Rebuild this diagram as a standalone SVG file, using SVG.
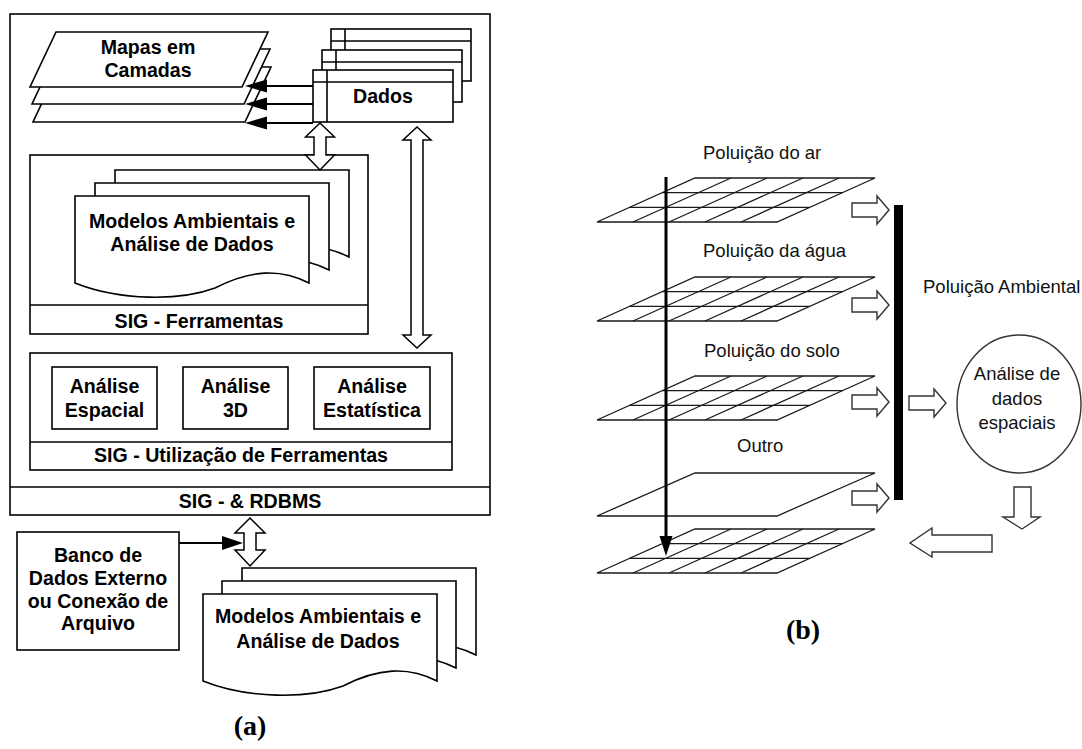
<svg xmlns="http://www.w3.org/2000/svg" width="1082" height="749" viewBox="0 0 1082 749">
<style>
  .ln{fill:#fff;stroke:#000;stroke-width:1.6}
  .nf{fill:none;stroke:#000;stroke-width:1.6}
  .b{font-family:"Liberation Sans",Arial,sans-serif;font-weight:bold;font-size:19.6px;text-anchor:middle;fill:#000}
  .r{font-family:"Liberation Sans",Arial,sans-serif;font-size:18.5px;fill:#111}
  .g{fill:none;stroke:#1a1a1a;stroke-width:1.3}
  .gw{fill:#fff;stroke:#1a1a1a;stroke-width:1.3}
  .ha{fill:#fff;stroke:#000;stroke-width:1.5}
  .hb{fill:#fff;stroke:#333;stroke-width:1.4}
  .cap{font-family:"Liberation Serif","Times New Roman",serif;font-weight:bold;font-size:28px;text-anchor:middle;fill:#000}
</style>
<defs>
  <!-- document sheet with wavy lower edge -->
  <path id="doc" d="M0,0 H234 V87 C205,72 175,74 140,92 C105,105 45,105 0,87 Z"/>
  <!-- map layer sheet -->
  <path id="layer" d="M56,32 H268 L242,87 H30 Z"/>
  <!-- data table icon -->
  <g id="table">
    <rect x="0" y="0" width="140" height="52"/>
    <line x1="0" y1="12" x2="140" y2="12"/>
    <line x1="14" y1="0" x2="14" y2="52"/>
  </g>
  <!-- 5x3 raster layer in perspective -->
  <g id="grid">
    <path d="M98,0 H278 L180,44 H0 Z"/>
    <line x1="65.3" y1="14.7" x2="245.3" y2="14.7"/>
    <line x1="32.7" y1="29.3" x2="212.7" y2="29.3"/>
    <line x1="134" y1="0" x2="36" y2="44"/>
    <line x1="170" y1="0" x2="72" y2="44"/>
    <line x1="206" y1="0" x2="108" y2="44"/>
    <line x1="242" y1="0" x2="144" y2="44"/>
  </g>
  <!-- right-pointing hollow arrow -->
  <path id="rarrow" d="M0,-7 H25 V-14 L37,0 L25,14 V7 H0 Z"/>
</defs>

<!-- ===== (a) GIS architecture ===== -->
<g id="sig-rdbms">
  <rect class="ln" x="10" y="14" width="480" height="501"/>
  <line class="nf" x1="10" y1="487" x2="490" y2="487"/>
  <text class="b" x="250" y="508">SIG - &amp; RDBMS</text>
</g>

<g id="mapas-camadas">
  <use href="#layer" class="ln" transform="translate(3,35)"/>
  <use href="#layer" class="ln" transform="translate(2,17)"/>
  <use href="#layer" class="ln"/>
  <text class="b" x="148" y="54">Mapas em</text>
  <text class="b" x="148" y="77">Camadas</text>
</g>

<g id="dados" class="ln">
  <use href="#table" x="331" y="29"/>
  <use href="#table" x="322" y="50"/>
  <use href="#table" x="313" y="70"/>
  <text class="b" x="383" y="103" stroke="none">Dados</text>
</g>

<g id="sig-ferramentas">
  <rect class="ln" x="30" y="155" width="338" height="179"/>
  <line class="nf" x1="30" y1="305" x2="368" y2="305"/>
  <text class="b" x="199" y="328">SIG - Ferramentas</text>
</g>

<g id="modelos-1">
  <use href="#doc" class="ln" x="115" y="170"/>
  <use href="#doc" class="ln" x="95" y="183"/>
  <use href="#doc" class="ln" x="75" y="196"/>
  <text class="b" x="192" y="228">Modelos Ambientais e</text>
  <text class="b" x="192" y="251">Análise de Dados</text>
</g>

<g id="sig-utilizacao">
  <rect class="ln" x="30" y="353" width="422" height="117"/>
  <line class="nf" x1="30" y1="442" x2="452" y2="442"/>
  <text class="b" x="241" y="462">SIG - Utilização de Ferramentas</text>
</g>

<g id="analise-espacial">
  <rect class="ln" x="52" y="367" width="105" height="62"/>
  <text class="b" x="104.5" y="393">Análise</text>
  <text class="b" x="104.5" y="417">Espacial</text>
</g>

<g id="analise-3d">
  <rect class="ln" x="183" y="367" width="105" height="62"/>
  <text class="b" x="235.5" y="393">Análise</text>
  <text class="b" x="235.5" y="417">3D</text>
</g>

<g id="analise-estatistica">
  <rect class="ln" x="314" y="367" width="116" height="62"/>
  <text class="b" x="372" y="393">Análise</text>
  <text class="b" x="372" y="417">Estatística</text>
</g>

<g id="banco-dados">
  <rect class="ln" x="17" y="532" width="162" height="118"/>
  <text class="b" x="98" y="562">Banco de</text>
  <text class="b" x="98" y="585">Dados Externo</text>
  <text class="b" x="98" y="608">ou Conexão de</text>
  <text class="b" x="98" y="630">Arquivo</text>
</g>

<g id="modelos-2">
  <use href="#doc" class="ln" x="242" y="568"/>
  <use href="#doc" class="ln" x="222" y="581"/>
  <use href="#doc" class="ln" x="203" y="594"/>
  <text class="b" x="318" y="623">Modelos Ambientais e</text>
  <text class="b" x="318" y="648">Análise de Dados</text>
</g>

<g id="connectors-a">
  <!-- dados to map layers -->
  <g stroke="#000" stroke-width="2.2">
    <line x1="313" y1="86" x2="262" y2="86"/>
    <line x1="313" y1="104" x2="262" y2="104"/>
    <line x1="313" y1="123" x2="262" y2="123"/>
  </g>
  <polygon points="245,86 267,79.5 267,92.5"/>
  <polygon points="245,104 267,97.5 267,110.5"/>
  <polygon points="245,123 267,116.5 267,129.5"/>
  <!-- hollow two-way arrows -->
  <path class="ha" d="M320,123 L334.5,137 L326,137 L326,155 L334.5,155 L320,170 L305.5,155 L314,155 L314,137 L305.5,137 Z"/>
  <path class="ha" d="M417,127 L431,140 L423,140 L423,335 L431,335 L417,348 L403,335 L411,335 L411,140 L403,140 Z"/>
  <path class="ha" d="M250,518 L265,533 L256,533 L256,550 L265,550 L250,566 L235,550 L244,550 L244,533 L235,533 Z"/>
  <!-- external database link -->
  <line x1="179" y1="543" x2="226" y2="543" stroke="#000" stroke-width="2.2"/>
  <polygon points="243,543 222,536 222,550"/>
</g>

<text class="cap" x="250" y="735">(a)</text>

<!-- ===== (b) environmental pollution layers ===== -->
<g id="camada-ar">
  <use href="#grid" class="gw" transform="translate(597,178)"/>
  <text class="r" x="703" y="159">Poluição do ar</text>
</g>
<g id="camada-agua">
  <use href="#grid" class="gw" transform="translate(597,277)"/>
  <text class="r" x="703" y="257">Poluição da água</text>
</g>
<g id="camada-solo">
  <use href="#grid" class="gw" transform="translate(597,376)"/>
  <text class="r" x="704" y="357">Poluição do solo</text>
</g>
<g id="camada-outro">
  <path class="gw" d="M695,473 H875 L777,516 H597 Z"/>
  <text class="r" x="737" y="452" font-size="15.5">Outro</text>
</g>
<g id="camada-resultado">
  <use href="#grid" class="gw" transform="translate(597,529)"/>
</g>

<g id="poluicao-ambiental">
  <rect x="894" y="205" width="9" height="295" fill="#000"/>
  <text class="r" x="923" y="293">Poluição Ambiental</text>
</g>

<g id="analise-dados-espaciais">
  <ellipse cx="1019" cy="404" rx="62" ry="69" fill="#fff" stroke="#333" stroke-width="1.4"/>
  <text class="r" x="1017" y="380" text-anchor="middle">Análise de</text>
  <text class="r" x="1017" y="405" text-anchor="middle">dados</text>
  <text class="r" x="1017" y="429" text-anchor="middle">espaciais</text>
</g>

<g id="connectors-b">
  <!-- overlay arrow through the layers -->
  <line x1="666" y1="177" x2="666" y2="540" stroke="#000" stroke-width="3"/>
  <polygon points="666,556 659.5,536 672.5,536"/>
  <!-- layers into aggregate -->
  <use href="#rarrow" class="hb" x="852" y="210"/>
  <use href="#rarrow" class="hb" x="852" y="305"/>
  <use href="#rarrow" class="hb" x="852" y="402"/>
  <use href="#rarrow" class="hb" x="852" y="498"/>
  <!-- aggregate to analysis -->
  <use href="#rarrow" class="hb" x="909" y="403"/>
  <!-- analysis down and back to result layer -->
  <path class="hb" d="M1014,487 H1031 V517 H1040 L1022,529 L1003,517 H1014 Z"/>
  <path class="hb" d="M992,535 V552 H932 V557 L910,543 L932,528 V535 Z"/>
</g>

<text class="cap" x="803" y="639">(b)</text>
</svg>
